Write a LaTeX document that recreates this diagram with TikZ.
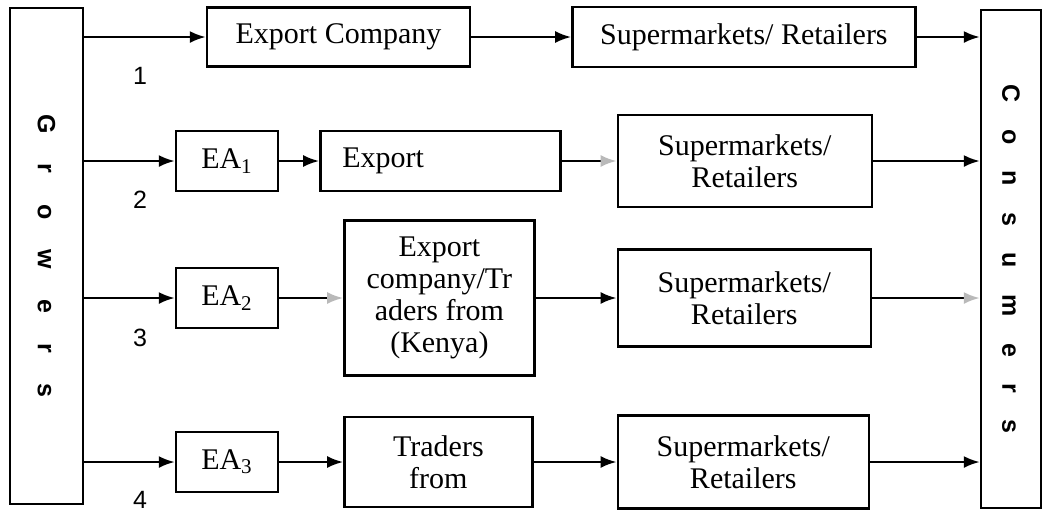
\documentclass[tikz,border=0pt]{standalone}
\usepackage{fontspec}
\usepackage{graphicx}
\setmainfont{Liberation Serif}
\newfontfamily\labelfont{Liberation Sans}
\usetikzlibrary{positioning,arrows.meta}

\begin{document}
\begin{tikzpicture}[
			x=0.5pt,
			y=-0.5pt,
			>={Latex[length=8pt,width=6pt]},
			line width=1.2pt,
			every node/.style={
				draw,
				line width=1.2pt,
				align=center,
				inner sep=2pt,
				font=\fontsize{15}{16}\selectfont
			},
			sidebox/.style={
				minimum width=36.5pt,
				minimum height=248pt,
				font=\labelfont\bfseries\fontsize{12.5}{14}\selectfont
			},
			eabox/.style={minimum width=51pt,minimum height=30pt},
			num/.style={draw=none,inner sep=0pt,font=\labelfont\fontsize{12.5}{14}\selectfont},
			faded/.style={-{Latex[length=8pt,width=6pt,color=gray!55]}}
			]
			
			\useasboundingbox (0,0) rectangle (1043,511);
			
			%%%%%%%%%%%%%%%%%%%%%%%%%%%%%%%%%%%%%%%%%%%%%%%%%%%%%%%%%%%%
			% Side Boxes
			%%%%%%%%%%%%%%%%%%%%%%%%%%%%%%%%%%%%%%%%%%%%%%%%%%%%%%%%%%%%
			
			\node[sidebox] (growers) at (46.5,256)
			{\rotatebox{-90}{\spaceskip=15.2pt G r o w e r s}};
			
			\node[sidebox,minimum width=30pt,minimum height=249pt] (consumers) at (1011,259)
			{\rotatebox{-90}{\spaceskip=13.2pt C o n s u m e r s}};
			
			%%%%%%%%%%%%%%%%%%%%%%%%%%%%%%%%%%%%%%%%%%%%%%%%%%%%%%%%%%%%
			% Channel 1
			%%%%%%%%%%%%%%%%%%%%%%%%%%%%%%%%%%%%%%%%%%%%%%%%%%%%%%%%%%%%
			
			\node[minimum width=131.5pt,minimum height=29.5pt] (expco) at (338.5,37)
			{Export Company};
			
			\node[minimum width=171.5pt,minimum height=30pt] (super1) [right=50pt of expco]
			{Supermarkets/ Retailers};
			
			%%%%%%%%%%%%%%%%%%%%%%%%%%%%%%%%%%%%%%%%%%%%%%%%%%%%%%%%%%%%
			% Channel 2
			%%%%%%%%%%%%%%%%%%%%%%%%%%%%%%%%%%%%%%%%%%%%%%%%%%%%%%%%%%%%
			
			\node[eabox] (ea1) at (227,161)
			{EA\textsubscript{1}};
			
			\node[minimum width=120pt,minimum height=30pt,text width=98pt,inner xsep=11pt,align=left] (export) [right=20pt of ea1]
			{Export};
			
			\node[minimum width=127pt,minimum height=46pt] (super2) [right=27.5pt of export]
			{Supermarkets/\\Retailers};
			
			%%%%%%%%%%%%%%%%%%%%%%%%%%%%%%%%%%%%%%%%%%%%%%%%%%%%%%%%%%%%
			% Channel 3
			%%%%%%%%%%%%%%%%%%%%%%%%%%%%%%%%%%%%%%%%%%%%%%%%%%%%%%%%%%%%
			
			\node[eabox] (ea2) at (227,298)
			{EA\textsubscript{2}};
			
			\node[minimum width=95pt,minimum height=77.5pt] (kenya) [right=32pt of ea2]
			{Export\\company/Tr\\aders from\\(Kenya)};
			
			\node[minimum width=126.5pt,minimum height=48.5pt] (super3) [right=40.5pt of kenya]
			{Supermarkets/\\Retailers};
			
			%%%%%%%%%%%%%%%%%%%%%%%%%%%%%%%%%%%%%%%%%%%%%%%%%%%%%%%%%%%%
			% Channel 4
			%%%%%%%%%%%%%%%%%%%%%%%%%%%%%%%%%%%%%%%%%%%%%%%%%%%%%%%%%%%%
			
			\node[eabox] (ea3) at (227,462)
			{EA\textsubscript{3}};
			
			\node[minimum width=94pt,minimum height=45pt] (traders) [right=32pt of ea3]
			{Traders\\from};
			
			\node[minimum width=125.5pt,minimum height=46.5pt] (super4) [right=41.5pt of traders]
			{Supermarkets/\\Retailers};
			
			%%%%%%%%%%%%%%%%%%%%%%%%%%%%%%%%%%%%%%%%%%%%%%%%%%%%%%%%%%%%
			% Channel Numbers
			%%%%%%%%%%%%%%%%%%%%%%%%%%%%%%%%%%%%%%%%%%%%%%%%%%%%%%%%%%%%
			
			\node[num] (no1) at (140,76) {1};
			
			\node[num] (no2) at (140,200) {2};
			
			\node[num] (no3) at (140,338) {3};
			
			\node[num] (no4) at (140,500) {4};
			
			%%%%%%%%%%%%%%%%%%%%%%%%%%%%%%%%%%%%%%%%%%%%%%%%%%%%%%%%%%%%
			% Connections
			%%%%%%%%%%%%%%%%%%%%%%%%%%%%%%%%%%%%%%%%%%%%%%%%%%%%%%%%%%%%
			
			% Channel 1
			
			\draw[->] (growers.east |- expco) -- (expco);
			
			\draw[->] (expco) -- (super1);
			
			\draw[->] (super1) -- (super1 -| consumers.west);
			
			% Channel 2
			
			\draw[->] (growers.east |- ea1) -- (ea1);
			
			\draw[->] (ea1) -- (export);
			
			\draw[faded] (export) -- (super2);
			
			\draw[->] (super2) -- (super2 -| consumers.west);
			
			% Channel 3
			
			\draw[->] (growers.east |- ea2) -- (ea2);
			
			\draw[faded] (ea2) -- (kenya);
			
			\draw[->] (kenya) -- (super3);
			
			\draw[faded] (super3) -- (super3 -| consumers.west);
			
			% Channel 4
			
			\draw[->] (growers.east |- ea3) -- (ea3);
			
			\draw[->] (ea3) -- (traders);
			
			\draw[->] (traders) -- (super4);
			
			\draw[->] (super4) -- (super4 -| consumers.west);
			
			%%%%%%%%%%%%%%%%%%%%%%%%%%%%%%%%%%%%%%%%%%%%%%%%%%%%%%%%%%%%
			
		\end{tikzpicture}
\end{document}
